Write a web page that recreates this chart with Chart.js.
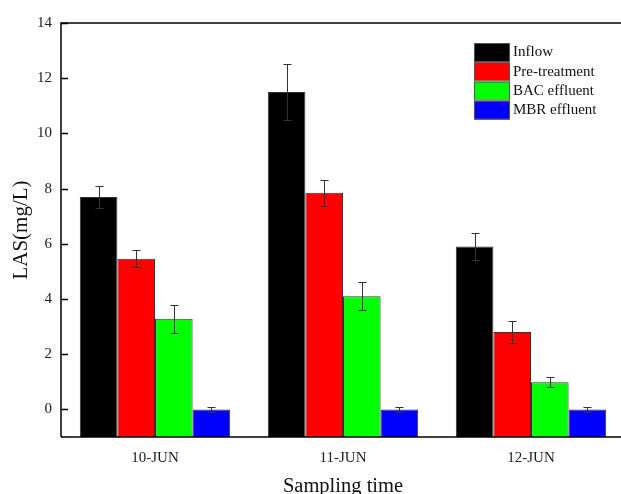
<!DOCTYPE html>
<html>
<head>
<meta charset="utf-8">
<script src="https://cdn.jsdelivr.net/npm/chart.js@4"></script>
<style>
  html, body { margin: 0; padding: 0; background: #fff; overflow: hidden; }
  #wrap { width: 640px; height: 494px; }
</style>
</head>
<body>
<div id="wrap"><canvas id="chart" width="640" height="494"></canvas></div>
<script>
// data
const days = ["10-JUN", "11-JUN", "12-JUN"];
const inflow = [7.7, 11.5, 5.9];
const inflowErr = [0.4, 1.0, 0.5];
const pretreat = [5.46, 7.85, 2.8];
const pretreatErr = [0.3, 0.47, 0.4];
const bac = [3.28, 4.1, 0.98];
const bacErr = [0.5, 0.5, 0.18];
const mbr = [0.0, 0.0, 0.0];
const mbrErr = [0.1, 0.1, 0.1];
const yTicks = [0, 2, 4, 6, 8, 10, 12, 14];

const serif = "'Liberation Serif', 'Times New Roman', serif";

function makeSet(label, data, err, color) {
  return {
    label: label,
    data: data,
    err: err,
    base: -1,
    backgroundColor: color,
    borderColor: "#333",
    borderWidth: 1,
    categoryPercentage: 0.8,
    barPercentage: 1.0,
  };
}

// error bars, inward ticks, frame and legend
const extras = {
  id: "extras",
  afterDatasetsDraw(chart) {
    const ctx = chart.ctx;
    const y = chart.scales.y;
    const area = chart.chartArea;
    ctx.save();
    ctx.strokeStyle = "#333";
    ctx.lineWidth = 1;
    chart.data.datasets.forEach((ds, i) => {
      const meta = chart.getDatasetMeta(i);
      meta.data.forEach((bar, j) => {
        const top = Math.round(y.getPixelForValue(ds.data[j] + ds.err[j])) + 0.5;
        const bot = Math.round(y.getPixelForValue(ds.data[j] - ds.err[j])) + 0.5;
        const x = Math.round(bar.x) + 0.5;
        ctx.beginPath();
        ctx.moveTo(x, top); ctx.lineTo(x, bot);
        ctx.moveTo(x - 4, top); ctx.lineTo(x + 4, top);
        ctx.moveTo(x - 4, bot); ctx.lineTo(x + 4, bot);
        ctx.stroke();
      });
    });

    // frame
    ctx.strokeStyle = "#000";
    ctx.lineWidth = 1.5;
    ctx.beginPath();
    ctx.moveTo(area.left, area.bottom);
    ctx.lineTo(area.left, area.top);
    ctx.lineTo(area.right, area.top);
    ctx.lineTo(area.right, area.bottom);
    ctx.lineTo(area.left, area.bottom);
    ctx.stroke();

    // ticks pointing inward
    yTicks.forEach(v => {
      const py = Math.round(y.getPixelForValue(v)) + 0.5;
      ctx.beginPath();
      ctx.moveTo(area.left, py);
      ctx.lineTo(area.left + 7, py);
      ctx.stroke();
    });

    // legend
    ctx.font = "15px " + serif;
    ctx.textBaseline = "middle";
    ctx.textAlign = "left";
    chart.data.datasets.forEach((ds, i) => {
      const ly = 43 + i * 19.3;
      ctx.fillStyle = ds.backgroundColor;
      ctx.fillRect(474, ly, 35, 18);
      ctx.strokeStyle = "#555";
      ctx.lineWidth = 1;
      ctx.strokeRect(474.5, ly + 0.5, 35, 18);
      ctx.fillStyle = "#111";
      ctx.fillText(ds.label, 513, ly + 9.5);
    });
    ctx.restore();
  }
};

new Chart(document.getElementById("chart"), {
  type: "bar",
  data: {
    labels: days,
    datasets: [
      makeSet("Inflow", inflow, inflowErr, "#000000"),
      makeSet("Pre-treatment", pretreat, pretreatErr, "#ff0000"),
      makeSet("BAC effluent", bac, bacErr, "#00ff00"),
      makeSet("MBR effluent", mbr, mbrErr, "#0000ff"),
    ],
  },
  options: {
    responsive: false,
    animation: false,
    layout: { padding: { top: 23, right: 15, left: 0, bottom: 0 } },
    plugins: { legend: { display: false }, tooltip: { enabled: false } },
    scales: {
      x: {
        grid: { display: false, drawTicks: false },
        border: { display: false },
        ticks: { color: "#222", padding: 12, font: { family: serif, size: 15 } },
        title: {
          display: true,
          text: "Sampling time",
          color: "#111",
          font: { family: serif, size: 20.5 },
          padding: { top: 14, bottom: -5 },
        },
        afterFit(scale) { scale.height = 57; },
      },
      y: {
        min: -1,
        max: 14,
        afterBuildTicks(scale) { scale.ticks = yTicks.map(v => ({ value: v })); },
        grid: { display: false, drawTicks: false },
        border: { display: false },
        ticks: { color: "#222", padding: 9, font: { family: serif, size: 15 } },
        title: {
          display: true,
          text: "LAS(mg/L)",
          color: "#111",
          font: { family: serif, size: 21 },
          padding: { top: 9, bottom: 0 },
        },
        afterFit(scale) { scale.width = 61; },
      },
    },
  },
  plugins: [extras],
});
</script>
</body>
</html>
